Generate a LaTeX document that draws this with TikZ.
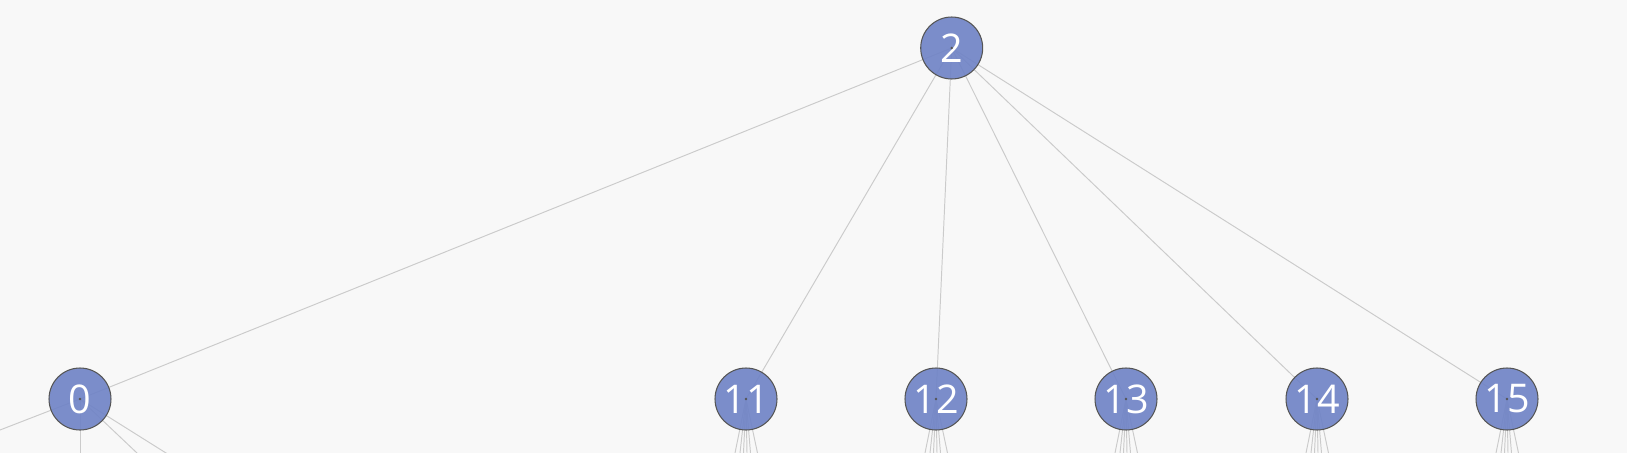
\documentclass[tikz,border=0pt]{standalone}
\usepackage{fontspec}
\setmainfont{Open Sans}
\usepackage{tikz}
\usetikzlibrary{calc,backgrounds}

\definecolor{bgcol}{HTML}{F8F8F8}
\definecolor{nodecol}{HTML}{6E82C6}
\definecolor{edgecol}{HTML}{CBCBCB}
\definecolor{rimcol}{HTML}{555555}

\begin{document}
\begin{tikzpicture}[x=0.02cm,y=-0.02cm,
    vertex/.style={circle,draw=rimcol,line width=0.6pt,fill=nodecol,fill opacity=0.9,
      text opacity=1,text=white,minimum size=1.24cm,inner sep=0pt,
      font=\fontsize{22.5}{22.5}\selectfont},
    edge/.style={draw=edgecol,line width=0.55pt}]

			\useasboundingbox (0,0) rectangle (1627,453);

			% root and its children
			\node[vertex] (n2) at (951.7,48) {2};
			\node[vertex] (n0) at (80,399) {0};
			\foreach \c/\x in {11/746,12/936,13/1126,14/1317,15/1507} {
			    \node[vertex] (n\c) at (\x,399) {\c};
			}

			% centre dots
			\foreach \c in {2,0,11,12,13,14,15} {
			    \fill[rimcol] (n\c.center) circle (1.3);
			}

			\begin{pgfonlayer}{background}
			\fill[bgcol] (0,0) rectangle (1627,453);
			\clip (0,0) rectangle (1627,453);

			\foreach \c in {0,11,12,13,14,15} {
			    \draw[edge] (n2.center) -- (n\c.center);
			}

			% children below the picture edge
			\coordinate (a0) at ($(n0)+(-160,62)$);
			\coordinate (b0) at ($(n0)+(0,80)$);
			\coordinate (c0) at ($(n0)+(85.5,81)$);
			\coordinate (d0) at ($(n0)+(129,81)$);
			\foreach \t in {a0,b0,c0,d0} {
			    \draw[edge] (n0.center) -- (\t);
			}

			\foreach \c in {11,12,13,14,15} {
			    \foreach \o [count=\i] in {-11,-6,-2.5,1,4.5,11.5} {
			        \coordinate (k\c-\i) at ($(n\c)+(1.5*\o,81)$);
			        \draw[edge] (n\c.center) -- (k\c-\i);
			    }
			}
			\end{pgfonlayer}
\end{tikzpicture}
\end{document}
